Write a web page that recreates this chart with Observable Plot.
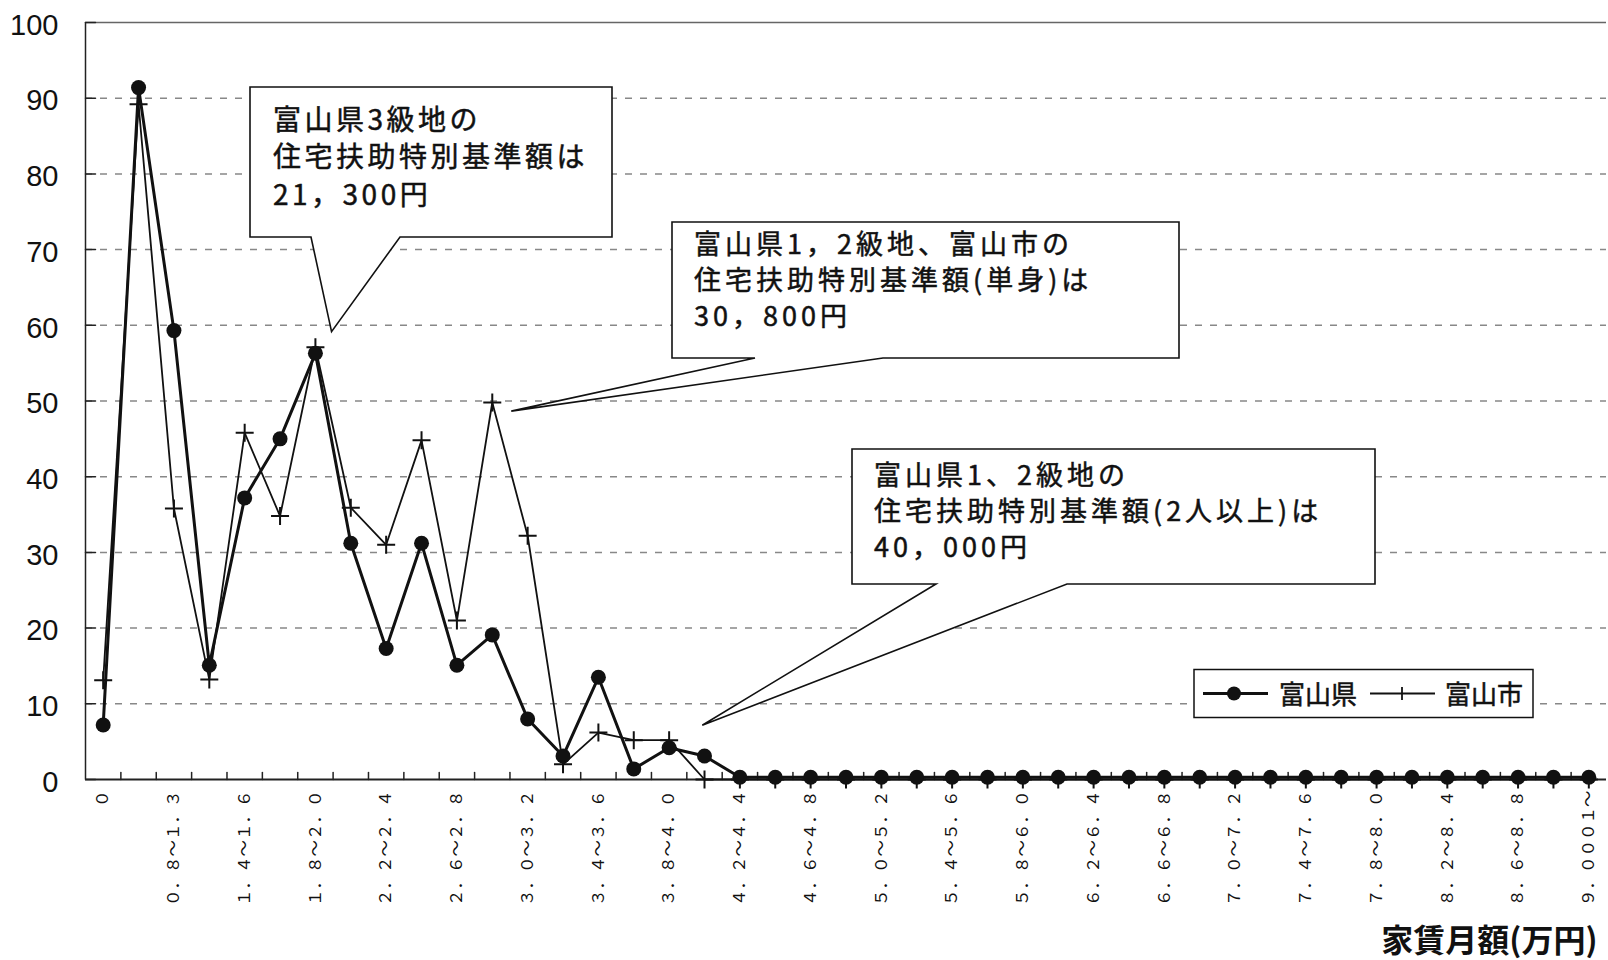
<!DOCTYPE html>
<html><head><meta charset="utf-8">
<script src="https://cdn.jsdelivr.net/npm/d3@7"></script>
<script src="https://cdn.jsdelivr.net/npm/@observablehq/plot@0.6"></script>
<style>body{margin:0;background:#fff;} #chart{width:1608px;height:960px;}</style>
</head><body><div id="chart"></div>
<script>
// ---- data ----
const categories = ["0","0.0001~0.8","0.8~1.3","1.3~1.4","1.4~1.6","1.6~1.8","1.8~2.0","2.0~2.2","2.2~2.4","2.4~2.6",
  "2.6~2.8","2.8~3.0","3.0~3.2","3.2~3.4","3.4~3.6","3.6~3.8","3.8~4.0","4.0~4.2","4.2~4.4","4.4~4.6",
  "4.6~4.8","4.8~5.0","5.0~5.2","5.2~5.4","5.4~5.6","5.6~5.8","5.8~6.0","6.0~6.2","6.2~6.4","6.4~6.6",
  "6.6~6.8","6.8~7.0","7.0~7.2","7.2~7.4","7.4~7.6","7.6~7.8","7.8~8.0","8.0~8.2","8.2~8.4","8.4~8.6",
  "8.6~8.8","8.8~9.0","9.0001~"];
const seriesNames = ["富山県", "富山市"];
const kenValues = [7.2, 91.4, 59.3, 15.1, 37.2, 45.0, 56.3, 31.2, 17.3, 31.2,
  15.1, 19.1, 8.0, 3.1, 13.5, 1.4, 4.2, 3.1, 0.3, 0.3,
  0.3, 0.3, 0.3, 0.3, 0.3, 0.3, 0.3, 0.3, 0.3, 0.3,
  0.3, 0.3, 0.3, 0.3, 0.3, 0.3, 0.3, 0.3, 0.3, 0.3,
  0.3, 0.3, 0.3];
const shiValues = [13.1, 89.2, 35.8, 13.2, 45.8, 34.8, 57.1, 35.9, 31.0, 44.8,
  21.0, 49.8, 32.2, 2.0, 6.2, 5.2, 5.2, 0, 0, 0,
  0, 0, 0, 0, 0, 0, 0, 0, 0, 0,
  0, 0, 0, 0, 0, 0, 0, 0, 0, 0,
  0, 0, 0];
const yTicks = [0, 10, 20, 30, 40, 50, 60, 70, 80, 90, 100];
const xTitle = "家賃月額(万円)";
const callouts = [
  {lines: ["富山県3級地の", "住宅扶助特別基準額は", "21，300円"], target: {i: 6.47, v: 59.1}},
  {lines: ["富山県1，2級地、富山市の", "住宅扶助特別基準額(単身)は", "30，800円"], target: {i: 11.55, v: 48.6}},
  {lines: ["富山県1、2級地の", "住宅扶助特別基準額(2人以上)は", "40，000円"], target: {i: 16.95, v: 7.1}}
];

// ---- layout (pixels) ----
const calloutLayout = [
  {box: [250, 87, 612, 237], tail: [311, 400], tx: 273, base: [130, 167, 205], fs: 28, ls: 3.5},
  {box: [672, 222, 1179, 358], tail: [755, 883], tx: 694, base: [254, 290, 326], fs: 27, ls: 4},
  {box: [852, 449, 1375, 584], tail: [936, 1067], tx: 874, base: [485, 521, 557], fs: 27, ls: 4}
];
const CJK = "'Noto Sans CJK JP', 'Noto Sans CJK SC', sans-serif";
const fw = s => s.replace(/[0-9.~]/g, c => String.fromCharCode(c.charCodeAt(0) + 0xFEE0));

const n = categories.length;
const idx = d3.range(n);
const kenData = idx.map(i => ({i, v: kenValues[i], s: seriesNames[0]}));
const shiData = idx.map(i => ({i, v: shiValues[i], s: seriesNames[1]}));
const labelIdx = idx.filter(i => i % 2 === 0);
const boundaries = d3.range(n - 1).map(i => i + 0.5);
const crossSymbol = {draw(ctx, size) { const r = Math.sqrt(size / Math.PI); ctx.moveTo(-r, 0); ctx.lineTo(r, 0); ctx.moveTo(0, -r); ctx.lineTo(0, r); }};
const tickShape = {draw(ctx, l) { ctx.moveTo(0, 0); ctx.lineTo(0, -l); }};

const chart = Plot.plot({
  width: 1608, height: 960,
  marginLeft: 85, marginRight: 2, marginTop: 22, marginBottom: 181,
  x: {domain: [-0.5, n - 0.5], axis: null, label: null},
  y: {domain: [0, 100], axis: null, label: null},
  style: {background: "white", fontFamily: "'Liberation Sans', Arial, sans-serif", color: "#111"},
  marks: [
    Plot.ruleY(yTicks.filter(t => t > 0 && t < 100), {stroke: "#888", strokeWidth: 1.5, strokeDasharray: "7,8"}),
    Plot.ruleY([100], {stroke: "#666", strokeWidth: 1.5}),
    Plot.ruleY([0], {stroke: "#222", strokeWidth: 1.8}),
    Plot.ruleX([-0.5], {stroke: "#222", strokeWidth: 1.5}),
    Plot.vector(yTicks, {y: d => d, frameAnchor: "left", rotate: 90, length: 10, anchor: "start", shape: tickShape, stroke: "#222", strokeWidth: 1.5}),
    Plot.vector(boundaries, {x: d => d, frameAnchor: "bottom", rotate: 0, length: 7, anchor: "start", shape: tickShape, stroke: "#222", strokeWidth: 1.5}),
    Plot.axisY(yTicks, {anchor: "left", tickSize: 0, tickPadding: 27, fontSize: 29, dy: 3, label: null, fill: "#111"}),
    Plot.axisX(labelIdx, {anchor: "bottom", tickSize: 0, tickPadding: 11, tickRotate: -90, tickFormat: i => fw(categories[i]), fontSize: 16.5, fontFamily: CJK, label: null, fill: "#111"}),
    Plot.line(shiData, {x: "i", y: "v", stroke: "#111", strokeWidth: 1.8}),
    Plot.dot(shiData, {x: "i", y: "v", symbol: crossSymbol, r: 9, stroke: "#111", strokeWidth: 2}),
    Plot.line(kenData, {x: "i", y: "v", stroke: "#111", strokeWidth: 3}),
    Plot.dot(kenData, {x: "i", y: "v", r: 7.5, fill: "#111", stroke: "none"}),
    Plot.text([xTitle], {frameAnchor: "bottom-right", text: d => d, dx: -9, dy: 172, textAnchor: "end", fontSize: 32, fontWeight: "bold", fontFamily: CJK, fill: "#111"})
  ]
});
document.getElementById("chart").appendChild(chart);

// ---- callouts & legend overlay ----
const sx = chart.scale("x"), sy = chart.scale("y");
const svg = d3.select(chart);
const g = svg.append("g").attr("text-anchor", "start");
callouts.forEach((c, k) => {
  const L = calloutLayout[k];
  const [x0, y0, x1, y1] = L.box;
  const ax = sx.apply(c.target.i), ay = sy.apply(c.target.v);
  g.append("path")
    .attr("d", `M${x0},${y0}H${x1}V${y1}H${L.tail[1]}L${ax},${ay}L${L.tail[0]},${y1}H${x0}Z`)
    .attr("fill", "white").attr("stroke", "#111").attr("stroke-width", 1.6).attr("stroke-linejoin", "miter");
  c.lines.forEach((line, j) => {
    g.append("text").attr("x", L.tx).attr("y", L.base[j]).attr("text-anchor", "start")
      .attr("font-family", CJK).attr("font-size", L.fs)
      .attr("stroke", "#111").attr("stroke-width", 0.5)
      .style("letter-spacing", L.ls + "px").attr("fill", "#111").text(line);
  });
});
const lg = svg.append("g").attr("text-anchor", "start");
lg.append("rect").attr("x", 1194).attr("y", 669.5).attr("width", 339).attr("height", 48)
  .attr("fill", "white").attr("stroke", "#111").attr("stroke-width", 1.5);
lg.append("line").attr("x1", 1203).attr("x2", 1268).attr("y1", 693.5).attr("y2", 693.5).attr("stroke", "#111").attr("stroke-width", 3);
lg.append("circle").attr("cx", 1234).attr("cy", 693.5).attr("r", 7).attr("fill", "#111");
lg.append("text").attr("x", 1279).attr("y", 704).attr("text-anchor", "start").attr("font-family", CJK).attr("font-size", 26).attr("stroke", "#111").attr("stroke-width", 0.5).attr("fill", "#111").text(seriesNames[0]);
lg.append("line").attr("x1", 1370).attr("x2", 1435).attr("y1", 693.5).attr("y2", 693.5).attr("stroke", "#111").attr("stroke-width", 1.8);
lg.append("line").attr("x1", 1402).attr("x2", 1402).attr("y1", 687).attr("y2", 700).attr("stroke", "#111").attr("stroke-width", 1.8);
lg.append("text").attr("x", 1445).attr("y", 704).attr("text-anchor", "start").attr("font-family", CJK).attr("font-size", 26).attr("stroke", "#111").attr("stroke-width", 0.5).attr("fill", "#111").text(seriesNames[1]);
</script>
</body></html>
